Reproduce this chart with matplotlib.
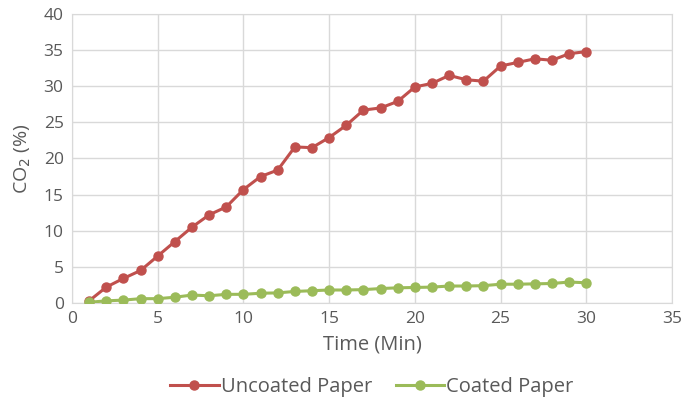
import numpy as np
import matplotlib
matplotlib.use("Agg")
from matplotlib import pyplot as plt

plt.rcParams['font.family'] = ['Open Sans', 'DejaVu Sans']

time_min = list(range(1, 31))
uncoated = [0.3, 2.2, 3.4, 4.5, 6.5, 8.5, 10.5, 12.2, 13.3, 15.7,
            17.5, 18.4, 21.6, 21.5, 22.9, 24.6, 26.7, 27.0, 27.9, 29.9,
            30.4, 31.5, 30.9, 30.7, 32.8, 33.3, 33.8, 33.6, 34.5, 34.8]
coated = [0.1, 0.3, 0.4, 0.6, 0.6, 0.8, 1.1, 1.0, 1.2, 1.2,
          1.35, 1.4, 1.6, 1.7, 1.8, 1.8, 1.85, 2.0, 2.1, 2.15,
          2.2, 2.35, 2.35, 2.4, 2.6, 2.6, 2.65, 2.7, 2.9, 2.8]

grey = '#595959'
grid_c = '#D9D9D9'

fig = plt.figure(figsize=(6.82, 4.0), dpi=100)
ax = fig.add_axes([72 / 682, 97 / 400, 600 / 682, 289 / 400])

ax.plot(time_min, uncoated, color='#C0504D', marker='o', markersize=6.5,
        linewidth=2.2, label='Uncoated Paper', zorder=3)
ax.plot(time_min, coated, color='#9BBB59', marker='o', markersize=6.5,
        linewidth=2.2, label='Coated Paper', zorder=3)

ax.set_xlim(0, 35)
ax.set_ylim(0, 40)
ax.set_xticks(np.arange(0, 36, 5))
ax.set_yticks(np.arange(0, 41, 5))
ax.grid(True, color=grid_c, linewidth=1)
ax.set_axisbelow(True)
for s in ax.spines.values():
    s.set_color(grid_c)
ax.tick_params(length=0, labelsize=12.5, colors=grey, pad=6)

ax.set_xlabel('Time (Min)', fontsize=14.5, color=grey, labelpad=5)
ax.set_ylabel('CO$_2$ (%)', fontsize=14, color=grey, labelpad=8)

ax.legend(loc='upper center', bbox_to_anchor=(0.5, -0.195), ncol=2,
          frameon=False, fontsize=14.5, labelcolor=grey, handlelength=2.4,
          handletextpad=0.1, columnspacing=1.2)

fig.savefig('out.png', dpi=100)
